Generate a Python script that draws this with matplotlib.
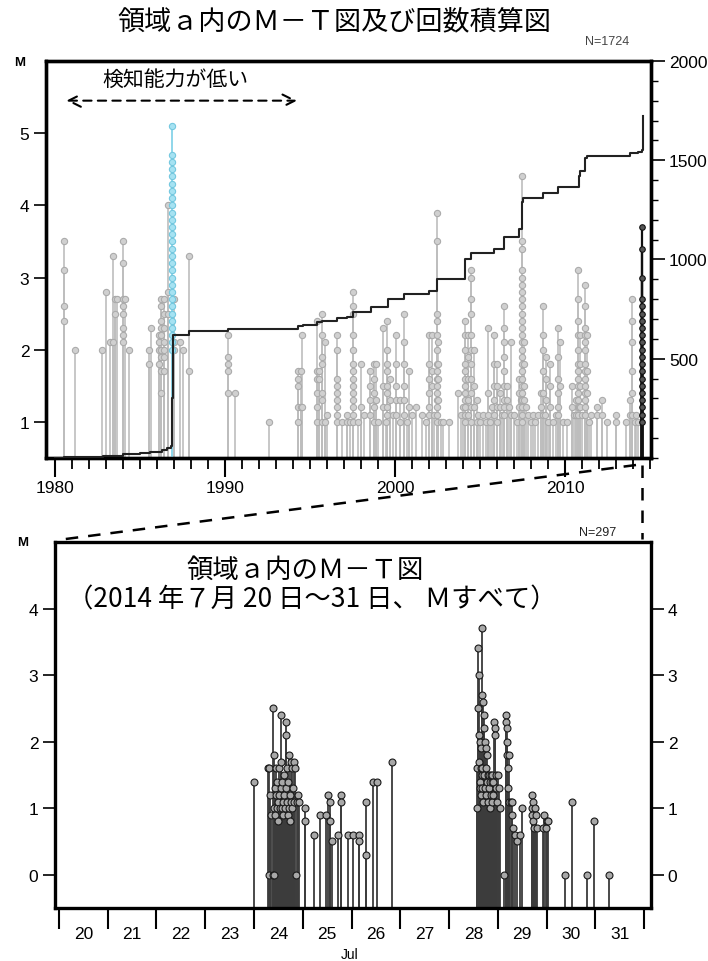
import matplotlib
matplotlib.use("Agg")
import matplotlib.pyplot as plt
from matplotlib.lines import Line2D
from matplotlib.ticker import MultipleLocator, FixedLocator, NullFormatter

plt.rcParams['font.family'] = ['Liberation Sans', 'Noto Sans CJK JP', 'DejaVu Sans']
JP = ['Noto Sans CJK JP', 'DejaVu Sans']

# ---- top panel: M-T (1980 - 2014) ----
grey_years = [1980.53, 1981.2, 1982.75, 1983.0, 1983.25, 1983.4, 1983.55, 1983.65,
              1984.0, 1984.1, 1984.35, 1985.55, 1985.65, 1986.1, 1986.25, 1986.4,
              1986.65, 1987.0, 1987.35, 1987.55, 1987.9, 1990.15, 1990.6, 1992.6,
              1994.3, 1994.45, 1994.55, 1995.4, 1995.5, 1995.7, 1995.9, 1996.0,
              1996.6, 1996.9, 1997.2, 1997.35, 1997.55, 1997.8, 1998.0, 1998.2,
              1998.5, 1998.75, 1998.9, 1999.0, 1999.3, 1999.45, 1999.55, 1999.7,
              1999.9, 2000.05, 2000.3, 2000.55, 2000.7, 2000.85, 2001.0, 2001.25,
              2001.6, 2001.8, 2002.0, 2002.15, 2002.3, 2002.45, 2002.55, 2002.7,
              2002.85, 2003.2, 2003.7, 2003.9, 2004.0, 2004.1, 2004.3, 2004.5,
              2004.65, 2004.8, 2004.9, 2005.0, 2005.2, 2005.35, 2005.45, 2005.6,
              2005.7, 2005.8, 2006.0, 2006.15, 2006.3, 2006.4, 2006.6, 2006.7,
              2006.85, 2007.0, 2007.15, 2007.3, 2007.4, 2007.5, 2007.6, 2007.7,
              2007.85, 2008.0, 2008.1, 2008.25, 2008.4, 2008.6, 2008.72, 2008.8,
              2008.9, 2009.0, 2009.1, 2009.3, 2009.45, 2009.6, 2009.7, 2009.9,
              2010.1, 2010.4, 2010.55, 2010.65, 2010.78, 2010.85, 2010.9, 2011.0,
              2011.2, 2011.3, 2011.4, 2011.55, 2011.87, 2012.16, 2012.5, 2013.0,
              2013.6, 2013.8, 2013.95, 2014.1, 2014.2, 2014.3]
grey_mags = [[3.5, 3.1, 2.6, 2.4], [2.0], [2.0], [2.8], [2.1], [3.3, 2.1], [2.7, 2.5], [2.7],
             [3.5, 3.2, 2.7, 2.6, 2.5, 2.3, 2.2, 2.1], [2.7], [2.0], [2.0, 1.8], [2.3],
             [2.2, 2.1, 2.0, 1.8], [2.7, 2.6, 2.4, 2.3, 2.2, 2.0, 1.9, 1.7, 1.4],
             [2.7, 2.5, 2.3, 2.1, 2.0, 1.9, 1.7],
             [4.0, 2.8, 2.5], [2.7, 2.1, 2.0], [2.1], [2.0], [3.3, 1.7],
             [2.2, 1.9, 1.8, 1.7, 1.4], [1.4], [1.0],
             [1.7, 1.6, 1.5, 1.2, 1.0], [1.7, 1.2], [2.2, 1.2],
             [2.4, 1.7, 1.6, 1.4, 1.2, 1.0], [1.7, 1.6], [2.5, 2.2, 1.9, 1.8, 1.4, 1.3, 1.0],
             [2.1, 1.0], [1.1],
             [2.2, 2.0, 1.6, 1.5, 1.4, 1.3, 1.2, 1.1, 1.0], [1.0], [1.1, 1.0], [1.0],
             [2.8, 2.6, 2.5, 2.2, 2.0, 1.8, 1.7, 1.6, 1.5, 1.4, 1.3, 1.2, 1.1, 1.0],
             [1.0], [1.8, 1.2], [1.1],
             [1.7, 1.5, 1.3, 1.1], [1.8, 1.6, 1.4, 1.2, 1.0], [1.8, 1.3], [1.0],
             [2.3, 1.5, 1.2], [1.0], [2.4, 2.0, 1.8, 1.7, 1.5, 1.4, 1.2, 1.1], [1.6, 1.3],
             [1.1], [2.2, 1.8, 1.5, 1.3, 1.1], [1.3, 1.0], [2.5, 2.1, 1.8, 1.5, 1.3, 1.1],
             [1.0], [1.7, 1.2], [1.1], [1.2],
             [1.1], [1.0], [2.2, 1.8, 1.6, 1.4, 1.2, 1.1], [2.2, 1.7, 1.5], [1.1],
             [3.9, 3.5, 2.5, 2.4, 2.2, 2.0, 1.8, 1.7, 1.6, 1.5, 1.4, 1.3, 1.2, 1.1, 1.0],
             [2.1, 1.8, 1.6, 1.3], [1.0],
             [1.0], [1.0], [1.4], [1.1], [1.2],
             [2.4, 2.2, 2.0, 1.8, 1.7, 1.6, 1.5, 1.4, 1.3, 1.2, 1.1, 1.0],
             [2.2, 1.9, 1.6, 1.3, 1.1],
             [3.1, 3.0, 2.7, 2.5, 2.2, 2.0, 1.8, 1.6, 1.4, 1.2, 1.0],
             [2.0, 1.5, 1.2], [1.3, 1.0], [1.1], [1.0], [1.1], [1.0], [2.3, 1.4, 1.1], [1.0],
             [1.2], [2.2, 1.8, 1.5, 1.3, 1.1], [1.8, 1.5, 1.2, 1.0], [1.4, 1.2], [1.1],
             [2.6, 2.3, 2.1, 1.9, 1.7, 1.5, 1.3, 1.2, 1.1], [1.5, 1.3], [1.2],
             [2.1, 1.1], [1.1], [1.0], [1.6, 1.4, 1.2], [1.3],
             [4.4, 3.5, 3.4, 3.1, 3.0, 2.9, 2.8, 2.7, 2.6, 2.5, 2.4, 2.3, 2.2, 2.1, 2.0,
              1.9, 1.8, 1.7, 1.6, 1.5, 1.4, 1.3, 1.2, 1.1, 1.0],
             [2.1, 1.8, 1.5, 1.3], [1.2],
             [1.1], [1.0], [1.1], [1.0], [1.1], [1.4, 1.2], [2.6, 2.2, 2.0, 1.7, 1.4, 1.1], [1.1],
             [1.9, 1.6, 1.3], [1.0], [1.8, 1.5, 1.2], [1.0], [1.1],
             [2.3, 1.9, 1.6, 1.4, 1.2, 1.1], [2.1, 1.5], [1.0],
             [1.0], [1.5, 1.2], [1.1], [1.3, 1.1],
             [3.1, 2.7, 2.4, 2.2, 2.0, 1.8, 1.7, 1.6, 1.5, 1.4, 1.3, 1.2, 1.1], [1.2],
             [2.2, 1.8, 1.5, 1.2], [1.1],
             [2.9, 2.6, 2.3, 2.2, 2.1, 2.0, 1.8, 1.7, 1.6, 1.5, 1.4, 1.3, 1.2, 1.1],
             [2.2, 1.7, 1.4], [1.0], [1.1], [1.2, 1.1], [1.3, 1.1], [1.0], [1.1, 1.0],
             [1.0], [1.3, 1.1], [2.7, 2.4, 2.1, 1.7, 1.4, 1.1], [1.0], [1.1], [1.0]]

cyan_year = 1986.9
cyan_mags = [5.1, 4.7, 4.6, 4.5, 4.4, 4.3, 4.2, 4.1, 4.0, 3.9, 3.8, 3.7, 3.6, 3.5, 3.4,
             3.3, 3.2, 3.1, 3.0, 2.9, 2.8, 2.7, 2.6, 2.5, 2.4, 2.3, 2.2, 2.1, 2.0]

recent_year = 2014.55
recent_mags = [3.7, 3.4, 3.0, 2.7, 2.6, 2.5, 2.4, 2.3, 2.2, 2.1, 2.0, 1.9, 1.8, 1.7,
               1.6, 1.5, 1.4, 1.3, 1.2, 1.1, 1.0]

cum_years = [1980.0, 1980.5, 1981.2, 1982.8, 1983.4, 1984.0, 1985.0, 1985.6, 1986.3,
             1986.6, 1986.85, 1986.9, 1986.95, 1987.9, 1990.2, 1994.3, 1994.6, 1995.4,
             1995.7, 1996.6, 1997.2, 1997.55, 1998.6, 1999.6, 2000.5, 2002.0, 2002.45,
             2004.1, 2004.5, 2005.8, 2006.4, 2007.3, 2007.5, 2007.55, 2008.7, 2009.6,
             2010.8, 2010.9, 2011.2, 2011.3, 2013.8, 2014.3, 2014.54, 2014.56]
cum_counts = [0, 3, 5, 8, 12, 20, 25, 30, 40, 50, 60, 300, 620, 640, 650, 665, 670, 685,
              692, 705, 712, 734, 760, 801, 826, 843, 902, 1003, 1033, 1053, 1112, 1154,
              1290, 1308, 1335, 1364, 1420, 1448, 1510, 1523, 1535, 1540, 1549, 1724]

# ---- bottom panel: July 20-31, 2014 ----
jul_days = [23.99, 24.29, 24.30, 24.31, 24.33, 24.35, 24.38, 24.385, 24.40, 24.41, 24.42,
            24.43, 24.44, 24.45, 24.46, 24.47, 24.48, 24.49, 24.50, 24.51, 24.52, 24.53,
            24.55, 24.555, 24.56, 24.57, 24.58, 24.59, 24.60, 24.61, 24.62, 24.63, 24.65,
            24.655, 24.66, 24.67, 24.68, 24.69, 24.70, 24.71, 24.72, 24.73, 24.74, 24.75,
            24.76, 24.77, 24.78, 24.79, 24.81, 24.82, 24.84, 24.86, 24.88, 24.91, 24.915,
            25.05, 25.055, 25.22, 25.35, 25.47, 25.52, 25.56, 25.565, 25.60, 25.73, 25.78,
            25.785, 25.92, 26.04, 26.15, 26.155, 26.29, 26.295, 26.45, 26.52, 26.82,
            28.57, 28.58, 28.59, 28.60, 28.61, 28.615, 28.62, 28.625, 28.63, 28.64, 28.645,
            28.65, 28.66, 28.665, 28.67, 28.675, 28.68, 28.685, 28.69, 28.70, 28.71, 28.715,
            28.72, 28.73, 28.74, 28.75, 28.76, 28.765, 28.77, 28.78, 28.79, 28.80, 28.81,
            28.82, 28.83, 28.84, 28.85, 28.86, 28.87, 28.88, 28.89, 28.90, 28.91, 28.93,
            28.94, 28.95, 28.96, 28.97, 28.98, 29.00, 29.02, 29.05, 29.12, 29.17, 29.175,
            29.18, 29.19, 29.195, 29.20, 29.21, 29.22, 29.23, 29.26, 29.28, 29.30, 29.31,
            29.35, 29.40, 29.45, 29.49, 29.69, 29.70, 29.71, 29.72, 29.73, 29.74, 29.76,
            29.78, 29.80, 29.93, 29.95, 29.98, 30.01, 30.03, 30.38, 30.53, 30.83, 30.97,
            31.28]
jul_mags = [1.4, 1.6, 0.0, 1.6, 1.2, 0.9, 2.5, 0.0, 1.8, 1.0, 0.0,
            1.3, 0.9, 1.6, 1.2, 1.0, 1.4, 1.1, 0.8, 1.6, 1.2, 1.0,
            2.4, 1.7, 1.3, 1.0, 1.4, 1.1, 0.9, 1.5, 1.2, 1.0, 2.3,
            2.1, 1.3, 1.6, 1.1, 0.9, 1.4, 1.0, 1.8, 1.2, 0.8, 1.7,
            1.1, 1.6, 1.0, 1.3, 1.7, 1.1, 1.6, 0.0, 1.1, 1.2, 1.1,
            1.0, 0.8, 0.6, 0.9, 0.9, 1.2, 1.1, 0.8, 0.5, 0.6, 1.2,
            1.1, 0.6, 0.6, 0.6, 0.5, 1.1, 0.3, 1.4, 1.4, 1.7,
            1.0, 1.6, 3.4, 2.5, 2.1, 1.7, 3.0, 1.4, 2.0, 1.3, 1.6,
            1.9, 1.2, 1.5, 3.7, 1.3, 2.7, 1.6, 2.6, 1.1, 2.4, 1.5,
            2.2, 1.3, 2.0, 1.6, 1.9, 1.2, 1.8, 1.4, 1.5, 1.1, 1.5,
            1.3, 1.4, 1.0, 1.5, 1.2, 1.4, 1.5, 1.1, 1.4, 1.2, 2.3,
            2.2, 2.1, 1.5, 1.3, 1.1, 1.5, 1.3, 1.0, 0.0, 2.4, 2.3,
            2.2, 2.0, 1.8, 1.6, 1.3, 1.8, 1.1, 1.1, 1.1, 0.9, 0.7,
            0.6, 0.5, 0.6, 1.0, 1.2, 1.0, 0.9, 1.1, 0.8, 0.7, 1.0,
            0.9, 0.7, 0.7, 0.9, 0.7, 0.8, 0.8, 0.0, 1.1, 0.0, 0.8,
            0.0]
day_labels = ['20', '21', '22', '23', '24', '25', '26', '27', '28', '29', '30', '31']

fig = plt.figure(figsize=(7.08, 9.62), dpi=100)

# ---------- top panel ----------
ax1 = fig.add_axes([0.065, 0.5229, 0.8545, 0.4127])
gx, gy = [], []
for yr, ms in zip(grey_years, grey_mags):
    for m in ms:
        gx.append(yr)
        gy.append(m)
ax1.vlines(gx, 0.5, gy, color='#bdbdbd', lw=1.2, zorder=2)
ax1.plot(gx, gy, 'o', ms=4.5, mfc='#d0d0d0', mec='#ababab', mew=0.8, zorder=3)
ax1.vlines([cyan_year] * len(cyan_mags), 0.5, cyan_mags, color='#8fd6ea', lw=1.4, zorder=4)
ax1.plot([cyan_year] * len(cyan_mags), cyan_mags, 'o', ms=4.5, mfc='#a6e2f2',
         mec='#74c8df', mew=0.8, zorder=5)
ax1.vlines([recent_year] * len(recent_mags), 0.5, recent_mags, color='#111111', lw=1.6, zorder=4)
ax1.plot([recent_year] * len(recent_mags), recent_mags, 'o', ms=4, mfc='#555555',
         mec='#111111', mew=0.8, zorder=5)

ax1.set_xlim(1979.47, 2015.06)
ax1.set_ylim(0.5, 6.0)
ax1.xaxis.set_major_locator(FixedLocator([1980, 1990, 2000, 2010]))
ax1.xaxis.set_minor_locator(MultipleLocator(1))
ax1.yaxis.set_major_locator(FixedLocator([1, 2, 3, 4, 5]))
ax1.tick_params(axis='x', which='major', direction='out', length=14, width=1.5,
                labelsize=12.5, pad=2)
ax1.tick_params(axis='x', which='minor', direction='out', length=8, width=1.3)
ax1.tick_params(axis='y', direction='out', length=9, width=1.2, labelsize=12.5, pad=3)
for sp in ax1.spines.values():
    sp.set_linewidth(2.4)

ax1.annotate('', xy=(1994.4, 5.45), xytext=(1980.5, 5.45),
             arrowprops=dict(arrowstyle='<->', linestyle=(0, (4, 3)), lw=1.5,
                             color='k', mutation_scale=22))
ax1.text(1987.1, 5.75, '検知能力が低い', family=JP, fontsize=15, ha='center', va='center')

ax2 = ax1.twinx()
ax2.step(cum_years, cum_counts, where='post', color='#222222', lw=1.5, zorder=6)
ax2.set_ylim(0, 2000)
ax2.yaxis.set_major_locator(FixedLocator([500, 1000, 1500, 2000]))
ax2.yaxis.set_minor_locator(MultipleLocator(100))
ax2.tick_params(axis='y', which='major', direction='out', length=10, width=1.2,
                labelsize=12.5, pad=3)
ax2.tick_params(axis='y', which='minor', direction='out', length=5, width=1.0)
for sp in ax2.spines.values():
    sp.set_linewidth(2.4)

fig.text(334 / 708, 1 - 22 / 962, '領域ａ内のＭ－Ｔ図及び回数積算図', family=JP,
         fontsize=19.5, ha='center', va='center')
fig.text(607 / 708, 1 - 42 / 962, 'N=1724', fontsize=9, color='#444444',
         ha='center', va='center')
fig.text(20 / 708, 1 - 63 / 962, 'M', fontsize=9.5, fontweight='bold', ha='center', va='center')

# ---------- bottom panel ----------
ax3 = fig.add_axes([0.0777, 0.0551, 0.8418, 0.3805])
ax3.vlines(jul_days, -0.5, jul_mags, color='#3c3c3c', lw=1.3, zorder=2)
ax3.plot(jul_days, jul_mags, 'o', ms=5, mfc='#a8a8a8', mec='#1a1a1a', mew=0.8, zorder=3)
ax3.set_xlim(19.92, 32.14)
ax3.set_ylim(-0.5, 5.0)
ax3.xaxis.set_major_locator(FixedLocator(list(range(20, 33))))
ax3.xaxis.set_major_formatter(NullFormatter())
ax3.xaxis.set_minor_locator(FixedLocator([d + 0.5 for d in range(20, 32)]))
ax3.set_xticklabels(day_labels, minor=True)
ax3.tick_params(axis='x', which='major', direction='out', length=15, width=1.5)
ax3.tick_params(axis='x', which='minor', length=0, labelsize=12.5, pad=13)
ax3.yaxis.set_major_locator(FixedLocator([0, 1, 2, 3, 4]))
ax3.tick_params(axis='y', direction='out', length=9, width=1.2, labelsize=12.5,
                right=True, labelright=True, pad=3)
for sp in ax3.spines.values():
    sp.set_linewidth(2.4)

fig.text(350 / 708, 1 - 955 / 962, 'Jul', fontsize=10, ha='center', va='center')
fig.text(23 / 708, 1 - 543 / 962, 'M', fontsize=9.5, fontweight='bold', ha='center', va='center')
fig.text(598 / 708, 1 - 533 / 962, 'N=297', fontsize=9, color='#222222',
         ha='center', va='center')
fig.text(305 / 708, 1 - 570 / 962, '領域ａ内のＭ－Ｔ図', family=JP, fontsize=19,
         ha='center', va='center')
fig.text(312 / 708, 1 - 600 / 962, '（2014 年７月 20 日～31 日、 Ｍすべて）', family=JP,
         fontsize=19, ha='center', va='center')

# dashed connectors between the panels
fig.add_artist(Line2D([636 / 708, 58 / 708], [1 - 466 / 962, 1 - 541 / 962],
                      transform=fig.transFigure, ls=(0, (5, 4)), color='k', lw=1.8))
fig.add_artist(Line2D([642 / 708, 642 / 708], [1 - 466 / 962, 1 - 540 / 962],
                      transform=fig.transFigure, ls=(0, (5, 4)), color='k', lw=1.8))

fig.savefig('out.png', dpi=100)
